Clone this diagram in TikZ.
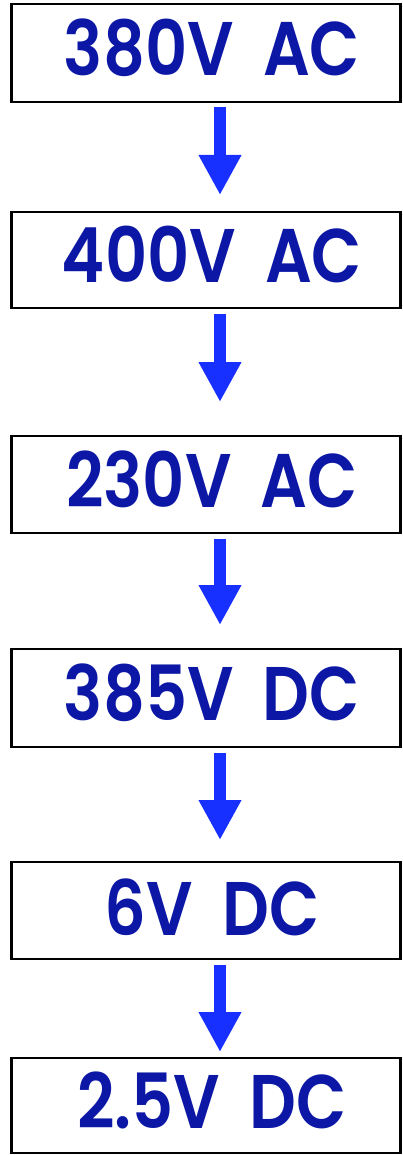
\documentclass[tikz,border=0pt]{standalone}
\usepackage{fontspec}
\setmainfont{Poppins}[BoldFont={Poppins SemiBold}]
\usetikzlibrary{arrows.meta}
\definecolor{textblue}{RGB}{12,24,165}
\definecolor{arrowblue}{RGB}{24,48,255}
\newcommand{\stagelabel}[2]{\scalebox{0.86}[1]{#1\hspace{34pt}#2}}
\begin{document}
\begin{tikzpicture}[x=1pt,y=-1pt,
  stagebox/.style={draw=black,line width=2.5pt,rectangle,inner sep=0pt,outer sep=0pt,minimum width=389pt},
  stagetext/.style={anchor=base,text=textblue,font=\fontsize{76}{80}\selectfont\bfseries,inner sep=0pt},
  flow/.style={draw=arrowblue,line width=12pt,-{Triangle[width=40pt,length=40pt]},shorten <=5.5pt}]
\useasboundingbox (0,0) rectangle (403,1155);
\node[stagebox,minimum height=98pt] (b1) at (206,53) {};
\node[stagebox,minimum height=96pt] (b2) at (206,260) {};
\node[stagebox,minimum height=97pt] (b3) at (206,484.5) {};
\node[stagebox,minimum height=98pt] (b4) at (206,698) {};
\node[stagebox,minimum height=97pt] (b5) at (206,910.5) {};
\node[stagebox,minimum height=95pt] (b6) at (206,1105.5) {};
\node[stagetext] (t1) at (212,76) {\stagelabel{380V}{AC}};
\node[stagetext] (t2) at (212,283) {\stagelabel{400V}{AC}};
\node[stagetext] (t3) at (212,507) {\stagelabel{230V}{AC}};
\node[stagetext] (t4) at (212,720) {\stagelabel{385V}{DC}};
\node[stagetext] (t5) at (212,935) {\stagelabel{6V}{DC}};
\node[stagetext] (t6) at (212,1128) {\stagelabel{2.5V}{DC}};
\draw[flow,shorten >=17pt] ([xshift=14pt]b1.south) -- ([xshift=14pt]b2.north);
\draw[flow,shorten >=34pt] ([xshift=14pt]b2.south) -- ([xshift=14pt]b3.north);
\draw[flow,shorten >=24pt] ([xshift=14pt]b3.south) -- ([xshift=14pt]b4.north);
\draw[flow,shorten >=22pt] ([xshift=14pt]b4.south) -- ([xshift=14pt]b5.north);
\draw[flow,shorten >=6pt] ([xshift=14pt]b5.south) -- ([xshift=14pt]b6.north);
\end{tikzpicture}
\end{document}
